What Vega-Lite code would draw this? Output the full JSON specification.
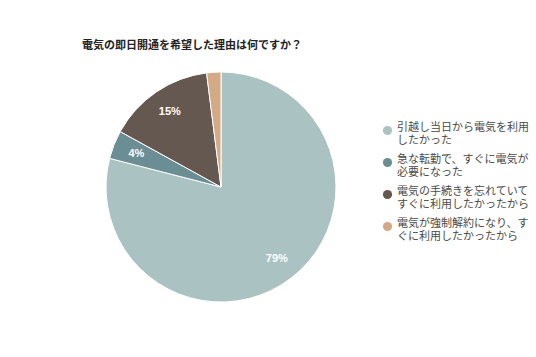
{
  "$schema": "https://vega.github.io/schema/vega-lite/v6.json",
  "width": 230,
  "height": 230,
  "autosize": {"type": "none"},
  "padding": {"left": 106, "top": 72, "right": 200, "bottom": 55},
  "background": "white",
  "title": {
    "text": "電気の即日開通を希望した理由は何ですか？",
    "anchor": "start",
    "frame": "group",
    "dx": -24,
    "offset": 19,
    "fontSize": 11,
    "fontWeight": "bold",
    "font": "Noto Sans CJK JP",
    "color": "#222222"
  },
  "data": {
    "values": [
      {"reason": "引越し当日から電気を利用\nしたかった", "value": 79, "label": "79%", "order": 1},
      {"reason": "急な転勤で、すぐに電気が\n必要になった", "value": 4, "label": "4%", "order": 2},
      {"reason": "電気の手続きを忘れていて\nすぐに利用したかったから", "value": 15, "label": "15%", "order": 3},
      {"reason": "電気が強制解約になり、す\nぐに利用したかったから", "value": 2, "label": "", "order": 4}
    ]
  },
  "encoding": {
    "theta": {"field": "value", "type": "quantitative", "stack": true},
    "order": {"field": "order", "type": "quantitative"}
  },
  "layer": [
    {
      "mark": {"type": "arc", "stroke": "white", "strokeWidth": 1},
      "encoding": {
        "color": {
          "field": "reason",
          "type": "nominal",
          "sort": null,
          "scale": {
            "domain": [
              "引越し当日から電気を利用\nしたかった",
              "急な転勤で、すぐに電気が\n必要になった",
              "電気の手続きを忘れていて\nすぐに利用したかったから",
              "電気が強制解約になり、す\nぐに利用したかったから"
            ],
            "range": ["#aac3c2", "#6a8e93", "#655850", "#d4a985"]
          },
          "legend": {
            "orient": "none",
            "legendX": 276,
            "legendY": 53,
            "title": null,
            "symbolType": "circle",
            "symbolSize": 85,
            "symbolStrokeWidth": 0,
            "labelFont": "Noto Sans CJK JP",
            "labelFontSize": 11,
            "labelColor": "#4a4a4a",
            "labelLimit": 200,
            "labelLineHeight": 17,
            "labelBaseline": "alphabetic",
            "labelOffset": 4,
            "rowPadding": 7,
            "labelExpr": "split(datum.label, '\\n')"
          }
        }
      }
    },
    {
      "mark": {"type": "text", "radius": 91, "fontWeight": "bold", "fontSize": 11, "font": "Liberation Sans"},
      "encoding": {
        "text": {"field": "label"},
        "color": {"value": "white"}
      }
    }
  ]
}
